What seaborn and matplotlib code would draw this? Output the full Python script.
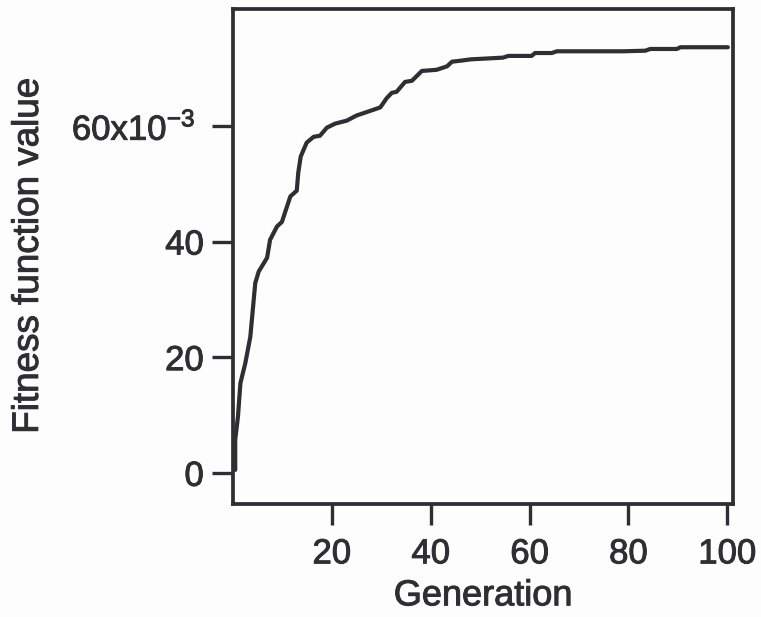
import matplotlib
matplotlib.use("Agg")
import matplotlib.pyplot as plt
import matplotlib.patheffects as pe
import pandas as pd
import seaborn as sns

generation = [0.45, 0.45, 1.0, 1.5, 2.5, 3.5, 4.5, 5.2, 6.9, 7.5, 8.9, 9.9, 11.6, 12.9, 13.2, 13.7,
              14.9, 16.3, 17.6, 19.0, 20.7, 23.0, 25.0, 27.1, 29.8, 31.1, 32.1, 33.1, 34.8, 36.2,
              38.2, 41.2, 43.3, 44.3, 46.3, 48.0, 54.6, 55.7, 60.4, 61.1, 64.5, 65.5, 78.9, 83.4,
              84.4, 89.8, 90.5, 100.1]
fitness = [0.5, 5.7, 9.7, 15.5, 19.0, 23.5, 32.8, 34.8, 37.2, 40.3, 42.6, 43.4, 47.8, 48.8, 51.9, 54.7,
           57.1, 58.1, 58.3, 59.7, 60.4, 60.9, 61.8, 62.4, 63.2, 64.8, 65.7, 65.9, 67.6, 67.8,
           69.5, 69.7, 70.3, 71.1, 71.3, 71.5, 71.8, 72.1, 72.1, 72.6, 72.6, 72.9, 72.9, 73.0,
           73.3, 73.3, 73.6, 73.6]
x_ticks = [20, 40, 60, 80, 100]
y_ticks = [0, 20, 40, 60]
y_tick_labels = ["0", "20", "40", r"60x10$^{\mathregular{-3}}$"]

ink = "#2e2e33"
sns.set_theme(style="ticks")
plt.rcParams["font.family"] = ["Liberation Sans", "DejaVu Sans"]
plt.rcParams["text.color"] = ink

fig = plt.figure(figsize=(7.61, 6.17), dpi=100, facecolor="#fdfdfe")
ax = fig.add_axes([233 / 761, 113 / 617, 500.3 / 761, 495.5 / 617], facecolor="#fdfdfe")

df = pd.DataFrame({"generation": generation, "fitness": fitness})
sns.lineplot(data=df, x="generation", y="fitness", estimator=None, sort=False,
             color=ink, linewidth=3.0, ax=ax)

ax.set_xlim(0, 101.2)
ax.set_ylim(-5.4, 80.3)
ax.set_xticks(x_ticks)
ax.set_yticks(y_ticks)
ax.set_yticklabels(y_tick_labels)
ax.tick_params(axis="x", length=15, width=2.4, color=ink, labelcolor=ink, labelsize=25, pad=9)
ax.tick_params(axis="y", length=15, width=2.4, color=ink, labelcolor=ink, labelsize=25, pad=6)
# the superscript sticks out less far than the plain numbers below it
ax.yaxis.get_major_ticks()[3].set_pad(12)
for spine in ax.spines.values():
    spine.set_linewidth(2.7)
    spine.set_color(ink)

ax.set_xlabel("Generation", fontsize=26, color=ink)
ax.set_ylabel("Fitness function value", fontsize=26.5, color=ink)
ax.xaxis.set_label_coords(0.5, -0.15)
ax.yaxis.set_label_coords(-0.374, 0.5)

# scanned print looks a bit heavier than the regular weight
heavier = [pe.withStroke(linewidth=0.7, foreground=ink)]
for txt in ax.get_xticklabels() + ax.get_yticklabels() + [ax.xaxis.label, ax.yaxis.label]:
    txt.set_path_effects(heavier)

fig.savefig("out.png", dpi=100, facecolor=fig.get_facecolor())
